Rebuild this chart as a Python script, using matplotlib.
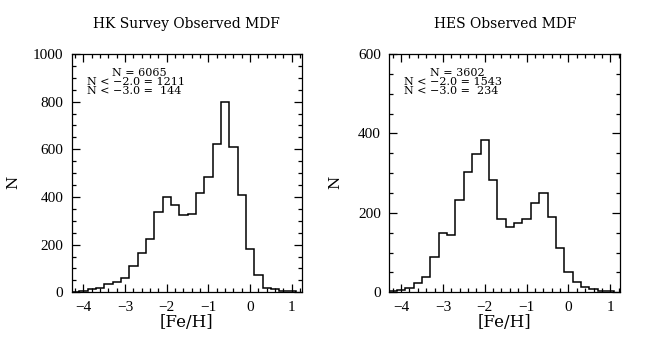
import numpy as np
import matplotlib.pyplot as plt
from matplotlib.ticker import MultipleLocator

# bin centres in [Fe/H] (bin width 0.2)
feh_centers = [-4.2, -4.0, -3.8, -3.6, -3.4, -3.2, -3.0, -2.8, -2.6, -2.4,
               -2.2, -2.0, -1.8, -1.6, -1.4, -1.2, -1.0, -0.8, -0.6, -0.4,
               -0.2, 0.0, 0.2, 0.4, 0.6, 0.8, 1.0]

hk_counts = [2, 7, 13, 17, 34, 42, 62, 110, 166, 222,
             337, 401, 368, 325, 327, 418, 484, 624, 800, 610,
             408, 180, 71, 20, 13, 7, 5]

hes_counts = [3, 6, 10, 23, 39, 90, 150, 143, 232, 302,
              347, 383, 282, 184, 164, 175, 184, 225, 251, 190,
              111, 50, 25, 13, 8, 4, 2]

titles = ["HK Survey Observed MDF", "HES Observed MDF"]
stats_hk = ["N = 6065", "N < \u22122.0 = 1211", "N < \u22123.0 =  144"]
stats_hes = ["N = 3602", "N < \u22122.0 = 1543", "N < \u22123.0 =  234"]
ymaxes = [1000, 600]

plt.rcParams['font.family'] = ['DejaVu Serif']

def draw(ax, counts, title, stats, ymax, ylab_x):
	c = np.array(feh_centers)
	edges = np.append(c - 0.1, c[-1] + 0.1)
	ax.stairs(counts, edges, color='black', lw=1.1)
	ax.set_xlim(-4.28, 1.24)
	ax.set_ylim(0, ymax)
	ax.xaxis.set_major_locator(MultipleLocator(1))
	ax.xaxis.set_minor_locator(MultipleLocator(0.2))
	ax.yaxis.set_major_locator(MultipleLocator(200))
	ax.yaxis.set_minor_locator(MultipleLocator(50))
	ax.tick_params(which='both', direction='in', top=True, right=True,
		labelsize=11, pad=6, width=0.9)
	ax.tick_params(which='major', length=6)
	ax.tick_params(which='minor', length=3)
	for lab in ax.get_xticklabels() + ax.get_yticklabels():
		lab.set_fontfamily('Liberation Serif')
	for s in ax.spines.values():
		s.set_linewidth(0.9)
	ax.set_xlabel('[Fe/H]', fontsize=12)
	ax.xaxis.set_label_coords(0.5, -0.09)
	ax.set_ylabel('N', fontsize=11, rotation=90)
	ax.yaxis.set_label_coords(ylab_x, 0.46)
	ax.text(0.5, 1.126, title, transform=ax.transAxes, ha='center',
		va='center', fontsize=10)
	ax.text(0.175, 0.919, stats[0], transform=ax.transAxes, fontsize=8,
		va='center')
	ax.text(0.065, 0.881, stats[1], transform=ax.transAxes, fontsize=8,
		va='center')
	ax.text(0.065, 0.845, stats[2], transform=ax.transAxes, fontsize=8,
		va='center')

def main():
	fig = plt.figure(figsize=(6.54, 3.63), dpi=100)
	ax1 = fig.add_axes([0.1096, 0.1948, 0.3517, 0.6565])
	ax2 = fig.add_axes([0.5953, 0.1948, 0.3532, 0.6565])
	draw(ax1, hk_counts, titles[0], stats_hk, ymaxes[0], -0.225)
	draw(ax2, hes_counts, titles[1], stats_hes, ymaxes[1], -0.205)
	fig.savefig('out.png', dpi=100)

if __name__ == "__main__":
	main()
